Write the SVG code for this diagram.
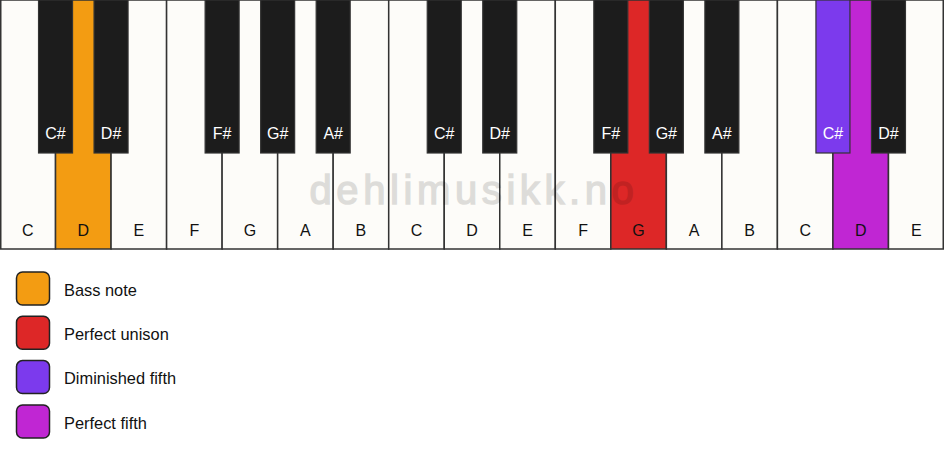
<svg xmlns="http://www.w3.org/2000/svg" width="944" height="461" viewBox="0 0 944 461">
<style>
.w{fill:#fdfcf9;stroke:#333;stroke-width:1.5}
.b{fill:#1c1c1c;stroke:#333;stroke-width:1.2}
.wl{font-family:"Liberation Sans",Arial,sans-serif;font-size:16px;fill:#111;text-anchor:middle}
.bl{font-family:"Liberation Sans",Arial,sans-serif;font-size:16px;fill:#fff;text-anchor:middle}
.lg{stroke:#222;stroke-width:1.5}
.lt{font-family:"Liberation Sans",Arial,sans-serif;font-size:16.4px;fill:#111}
.wm{font-family:"Liberation Sans",Arial,sans-serif;font-size:40px;fill:#000;stroke:#000;stroke-width:1.5;letter-spacing:4.6px}
</style>
<rect width="944" height="461" fill="#ffffff"/>
<g id="white-keys">
<rect id="k-C1" class="w" x="0.75" y="0" width="54.78" height="249"/>
<rect id="k-D1" class="w" x="55.53" y="0" width="55.53" height="249" style="fill:#f39c12"/>
<rect id="k-E1" class="w" x="111.06" y="0" width="55.53" height="249"/>
<rect id="k-F1" class="w" x="166.59" y="0" width="55.53" height="249"/>
<rect id="k-G1" class="w" x="222.12" y="0" width="55.53" height="249"/>
<rect id="k-A1" class="w" x="277.65" y="0" width="55.53" height="249"/>
<rect id="k-B1" class="w" x="333.18" y="0" width="55.53" height="249"/>
<rect id="k-C2" class="w" x="388.71" y="0" width="55.53" height="249"/>
<rect id="k-D2" class="w" x="444.24" y="0" width="55.53" height="249"/>
<rect id="k-E2" class="w" x="499.76" y="0" width="55.53" height="249"/>
<rect id="k-F2" class="w" x="555.29" y="0" width="55.53" height="249"/>
<rect id="k-G2" class="w" x="610.82" y="0" width="55.53" height="249" style="fill:#dd2727"/>
<rect id="k-A2" class="w" x="666.35" y="0" width="55.53" height="249"/>
<rect id="k-B2" class="w" x="721.88" y="0" width="55.53" height="249"/>
<rect id="k-C3" class="w" x="777.41" y="0" width="55.53" height="249"/>
<rect id="k-D3" class="w" x="832.94" y="0" width="55.53" height="249" style="fill:#c026d3"/>
<rect id="k-E3" class="w" x="888.47" y="0" width="54.78" height="249"/>
</g>
<g id="watermark" opacity="0.12">
<text class="wm" x="474" y="204.3" text-anchor="middle">dehlimusikk.no</text>
</g>
<g id="black-keys">
<rect id="k-Cs1" class="b" x="38.53" y="0" width="34" height="153"/>
<rect id="k-Ds1" class="b" x="94.06" y="0" width="34" height="153"/>
<rect id="k-Fs1" class="b" x="205.12" y="0" width="34" height="153"/>
<rect id="k-Gs1" class="b" x="260.65" y="0" width="34" height="153"/>
<rect id="k-As1" class="b" x="316.18" y="0" width="34" height="153"/>
<rect id="k-Cs2" class="b" x="427.24" y="0" width="34" height="153"/>
<rect id="k-Ds2" class="b" x="482.76" y="0" width="34" height="153"/>
<rect id="k-Fs2" class="b" x="593.82" y="0" width="34" height="153"/>
<rect id="k-Gs2" class="b" x="649.35" y="0" width="34" height="153"/>
<rect id="k-As2" class="b" x="704.88" y="0" width="34" height="153"/>
<rect id="k-Cs3" class="b" x="815.94" y="0" width="34" height="153" style="fill:#7c3aed"/>
<rect id="k-Ds3" class="b" x="871.47" y="0" width="34" height="153"/>
</g>
<g id="white-labels">
<text class="wl" x="27.76" y="236">C</text>
<text class="wl" x="83.29" y="236">D</text>
<text class="wl" x="138.82" y="236">E</text>
<text class="wl" x="194.35" y="236">F</text>
<text class="wl" x="249.88" y="236">G</text>
<text class="wl" x="305.41" y="236">A</text>
<text class="wl" x="360.94" y="236">B</text>
<text class="wl" x="416.47" y="236">C</text>
<text class="wl" x="472" y="236">D</text>
<text class="wl" x="527.53" y="236">E</text>
<text class="wl" x="583.06" y="236">F</text>
<text class="wl" x="638.59" y="236">G</text>
<text class="wl" x="694.12" y="236">A</text>
<text class="wl" x="749.65" y="236">B</text>
<text class="wl" x="805.18" y="236">C</text>
<text class="wl" x="860.71" y="236">D</text>
<text class="wl" x="916.24" y="236">E</text>
</g>
<g id="black-labels">
<text class="bl" x="55.53" y="139">C#</text>
<text class="bl" x="111.06" y="139">D#</text>
<text class="bl" x="222.12" y="139">F#</text>
<text class="bl" x="277.65" y="139">G#</text>
<text class="bl" x="333.18" y="139">A#</text>
<text class="bl" x="444.24" y="139">C#</text>
<text class="bl" x="499.76" y="139">D#</text>
<text class="bl" x="610.82" y="139">F#</text>
<text class="bl" x="666.35" y="139">G#</text>
<text class="bl" x="721.88" y="139">A#</text>
<text class="bl" x="832.94" y="139">C#</text>
<text class="bl" x="888.47" y="139">D#</text>
</g>
<g id="legend">
<g id="legend-bass">
<rect class="lg" x="16.5" y="272" width="33" height="33" rx="6" fill="#f39c12"/>
<text class="lt" x="64" y="295.7">Bass note</text>
</g>
<g id="legend-unison">
<rect class="lg" x="16.5" y="316.3" width="33" height="33" rx="6" fill="#dd2727"/>
<text class="lt" x="64" y="340">Perfect unison</text>
</g>
<g id="legend-dim5">
<rect class="lg" x="16.5" y="360.6" width="33" height="33" rx="6" fill="#7c3aed"/>
<text class="lt" x="64" y="384.3">Diminished fifth</text>
</g>
<g id="legend-p5">
<rect class="lg" x="16.5" y="405" width="33" height="33" rx="6" fill="#c026d3"/>
<text class="lt" x="64" y="428.7">Perfect fifth</text>
</g>
</g>
</svg>
